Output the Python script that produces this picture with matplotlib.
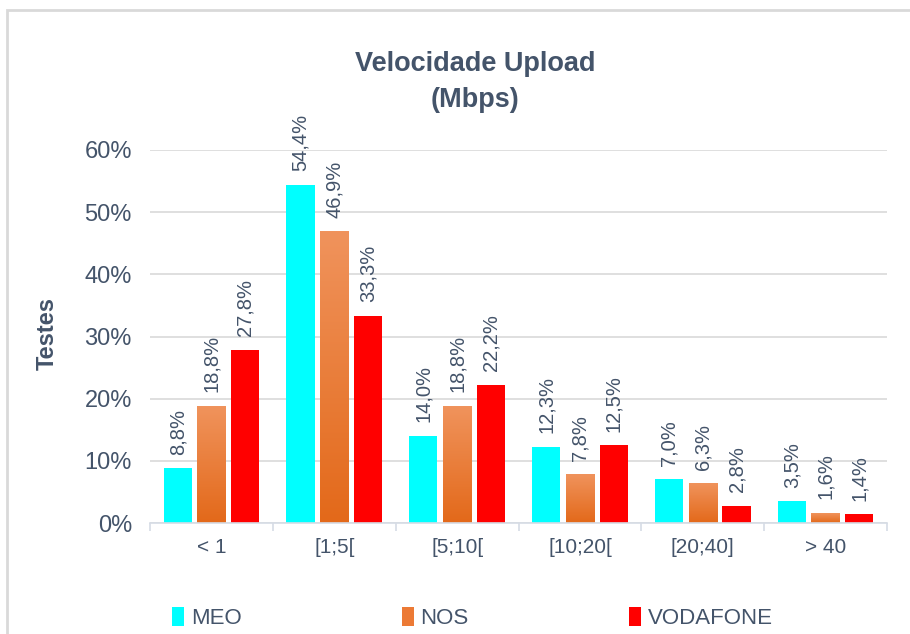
import numpy as np
import matplotlib
matplotlib.use("Agg")
import matplotlib.pyplot as plt
from matplotlib.patches import Patch, Rectangle
from matplotlib.colors import LinearSegmentedColormap

categories = ["< 1", "[1;5[", "[5;10[", "[10;20[", "[20;40]", "> 40"]
operators = ["MEO", "NOS", "VODAFONE"]
meo = [8.8, 54.4, 14.0, 12.3, 7.0, 3.5]
nos = [18.8, 46.9, 18.8, 7.8, 6.3, 1.6]
vodafone = [27.8, 33.3, 22.2, 12.5, 2.8, 1.4]

TXT = "#44546A"
plt.rcParams["font.family"] = ["Liberation Sans", "DejaVu Sans"]

fig = plt.figure(figsize=(9.1, 6.34), dpi=100)
ax = fig.add_axes([150 / 910, 111 / 634, 737 / 910, 373 / 634])

# light frame around the chart area
fig.patches.append(Rectangle((7 / 910, -0.05), 1.2, 1 - 10 / 634 + 0.05, transform=fig.transFigure,
                             fill=False, edgecolor="#D9D9D9", linewidth=2, zorder=0))

x = np.arange(len(categories))
w = 0.23
step = 0.275
series = [meo, nos, vodafone]
colors = ["#00FFFF", "#EE7F3A", "#FF0000"]
grad = LinearSegmentedColormap.from_list("nos", ["#E3691A", "#F0935C"])

for i, (vals, col) in enumerate(zip(series, colors)):
    pos = x + (i - 1) * step
    bars = ax.bar(pos, vals, width=w, color=col, zorder=2)
    if i == 1:
        for b in bars:
            b.set_facecolor("none")
            x0, y0 = b.get_x(), b.get_y()
            ax.imshow(np.linspace(0, 1, 100).reshape(-1, 1), cmap=grad, aspect="auto",
                      origin="lower", extent=(x0, x0 + b.get_width(), y0, y0 + b.get_height()),
                      zorder=2)
    for xp, v in zip(pos, vals):
        ax.text(xp, v + 2.2, ("%.1f%%" % v).replace(".", ","), rotation=90,
                ha="center", va="bottom", fontsize=14.5, color=TXT, clip_on=False)

ax.set_xlim(-0.5, len(categories) - 0.5)
ax.set_ylim(0, 60)
ax.set_yticks(np.arange(0, 61, 10))
ax.set_yticklabels(["%d%%" % t for t in range(0, 61, 10)])
ax.set_xticks(x)
ax.set_xticklabels(categories)
ax.set_xticks(np.arange(-0.5, len(categories)), minor=True)
ax.tick_params(axis="x", which="major", length=0, pad=11, labelsize=15, labelcolor=TXT)
ax.tick_params(axis="x", which="minor", length=6, color="#D6DCE5", width=1.2)
ax.tick_params(axis="y", length=0, pad=13, labelsize=17, labelcolor=TXT)
ax.grid(axis="y", color="#D9D9D9", linewidth=1.2, zorder=0)
ax.set_axisbelow(True)
for s in ["top", "right", "left"]:
    ax.spines[s].set_visible(False)
ax.spines["bottom"].set_color("#D6DCE5")
ax.spines["bottom"].set_linewidth(1.2)

ax.set_ylabel("Testes", fontsize=17, fontweight="bold", color=TXT)
ax.yaxis.set_label_coords((59 - 150) / 737, (634 - 333 - 111) / 373)
fig.text(0.5 * (355 + 595) / 910, 1 - 82 / 634, "Velocidade Upload\n(Mbps)", ha="center",
         va="center", fontsize=19.5, fontweight="bold", color=TXT, linespacing=1.5)

handles = [Patch(facecolor=c, edgecolor="none") for c in ["#00FFFF", "#EC7A35", "#FF0000"]]
fig.legend(handles, operators, loc="center left", bbox_to_anchor=(152 / 910, 1 - 618 / 634),
           ncol=3, frameon=False, fontsize=16, labelcolor=TXT, handlelength=0.55,
           handleheight=0.9, handletextpad=0.3, columnspacing=7.2)

fig.savefig("out.png", dpi=100)
